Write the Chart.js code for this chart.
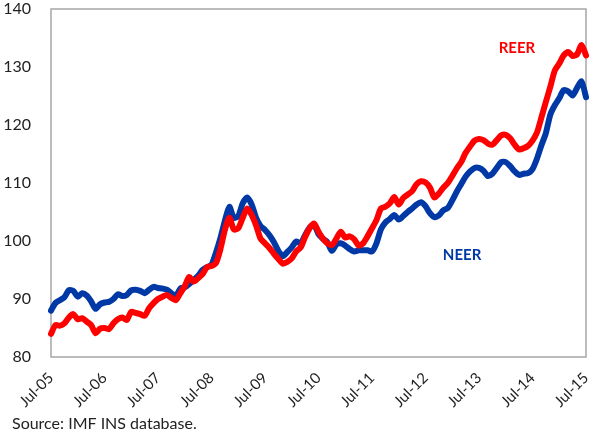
<!DOCTYPE html>
<html>
<head>
<meta charset="utf-8">
<script src="https://cdn.jsdelivr.net/npm/chart.js@4/dist/chart.umd.min.js"></script>
<style>
  html, body { margin: 0; padding: 0; background: #fff; }
  #wrap { position: relative; width: 590px; height: 434px; }
</style>
</head>
<body>
<div id="wrap"><canvas id="c" width="590" height="434"></canvas></div>
<script>
// ---- data ----
const monthNames = ["Jan","Feb","Mar","Apr","May","Jun","Jul","Aug","Sep","Oct","Nov","Dec"];
const startYear = 2005, startMonth = 6; // Jul-05
const nMonths = 121;
const categories = [];
for (let i = 0; i < nMonths; i++) {
  const mi = (startMonth + i) % 12;
  const yr = startYear + Math.floor((startMonth + i) / 12);
  categories.push(monthNames[mi] + "-" + String(yr % 100).padStart(2, "0"));
}
const reer = [
  84.0, 85.5, 85.4, 85.8, 86.8, 87.4, 86.5, 86.7, 86.1, 85.5,
  84.1, 84.9, 85.0, 84.8, 85.8, 86.5, 86.8, 86.4, 87.8, 87.6,
  87.4, 87.1, 88.4, 89.3, 90.0, 90.4, 90.7, 90.2, 89.8, 91.0,
  92.2, 93.8, 93.0, 93.6, 94.3, 95.5, 95.7, 96.2, 98.6, 101.9,
  104.0, 102.0, 102.2, 104.0, 105.6, 104.5, 102.7, 100.4, 99.6, 98.8,
  97.8, 96.9, 96.1, 96.4, 97.0, 98.2, 98.9, 100.7, 102.2, 103.0,
  101.6, 100.4, 99.6, 99.3, 100.4, 101.6, 100.6, 100.8, 100.3, 99.2,
  99.6, 100.8, 102.2, 103.6, 105.6, 105.9, 106.5, 107.6, 106.3, 107.4,
  108.0, 108.6, 109.8, 110.3, 110.1, 109.2, 107.5, 108.2, 109.2, 110.0,
  111.2, 112.5, 113.6, 115.2, 116.3, 117.3, 117.6, 117.4, 116.8, 116.6,
  117.4, 118.2, 118.3, 117.7, 116.6, 115.8, 116.0, 116.4, 117.3, 118.7,
  121.3, 124.0, 126.6, 129.4, 130.6, 132.0, 132.6, 131.9, 132.2, 133.8,
  132.0
];
const neer = [
  88.0, 89.3, 89.8, 90.3, 91.5, 91.4, 90.4, 91.0, 90.6, 89.6,
  88.3, 89.1, 89.4, 89.5, 90.0, 90.8, 90.5, 90.7, 91.5, 91.6,
  91.4, 91.0, 91.6, 92.1, 91.9, 91.8, 91.6, 91.0, 90.5, 91.8,
  92.0, 92.6, 93.3, 94.0, 95.0, 95.5, 95.9, 98.0, 100.5, 103.5,
  105.9, 104.0, 104.3, 106.5, 107.5, 106.3, 104.0, 102.6, 101.9, 101.0,
  99.8, 98.3, 97.4, 98.1, 98.9, 99.9, 99.6, 101.0, 102.3, 102.8,
  101.2, 100.4, 99.8, 98.3, 99.4, 99.6, 99.2, 98.6, 98.2, 98.4,
  98.4, 98.4, 98.2, 99.6, 102.0, 103.2, 103.8, 104.5, 103.7, 104.3,
  105.0, 105.6, 106.3, 106.7, 106.0, 104.8, 104.1, 104.4, 105.3, 105.7,
  107.0, 108.5, 109.8, 111.1, 112.0, 112.6, 112.6, 112.1, 111.2, 111.6,
  112.6, 113.6, 113.6, 112.9, 112.0, 111.4, 111.6, 111.7, 112.4, 114.2,
  116.5, 118.6, 121.8, 123.4, 124.6, 126.0, 125.8, 125.1, 126.4, 127.5,
  124.8
];
const yTicks = [80, 90, 100, 110, 120, 130, 140];
const seriesNames = ["REER", "NEER"];
const sourceText = "Source: IMF INS database.";

const FONT = "Lato, 'Open Sans', sans-serif";
const RED = "#ff0000", BLUE = "#0039a6";

const framePlugin = {
  id: "frame",
  beforeDatasetsDraw(chart) {
    const {ctx, chartArea: a} = chart;
    ctx.save();
    ctx.strokeStyle = "#a6a6a6";
    ctx.lineWidth = 1.5;
    ctx.strokeRect(a.left, a.top, a.right - a.left, a.bottom - a.top);
    ctx.restore();
  },
  afterDraw(chart) {
    const {ctx, scales: {x, y}} = chart;
    ctx.save();
    ctx.font = "bold 15px " + FONT;
    ctx.textAlign = "center";
    ctx.textBaseline = "middle";
    ctx.fillStyle = RED;
    ctx.fillText(seriesNames[0], x.getPixelForValue(104.5), y.getPixelForValue(133.3));
    ctx.fillStyle = BLUE;
    ctx.fillText(seriesNames[1], x.getPixelForValue(92.2), y.getPixelForValue(97.6));
    ctx.font = "16px " + FONT;
    ctx.fillStyle = "#222";
    ctx.textAlign = "left";
    ctx.textBaseline = "alphabetic";
    ctx.fillText(sourceText, 12, 429);
    ctx.restore();
  }
};

new Chart(document.getElementById("c"), {
  type: "line",
  data: {
    labels: categories,
    datasets: [
      { label: seriesNames[0], data: reer, borderColor: RED, borderWidth: 6, pointRadius: 0, tension: 0.25, borderCapStyle: "round", borderJoinStyle: "round" },
      { label: seriesNames[1], data: neer, borderColor: BLUE, borderWidth: 6, pointRadius: 0, tension: 0.25, borderCapStyle: "round", borderJoinStyle: "round", order: 1 }
    ]
  },
  options: {
    responsive: false,
    animation: false,
    layout: { padding: { top: 9, right: 4, left: 0, bottom: 0 } },
    plugins: { legend: { display: false }, tooltip: { enabled: false } },
    scales: {
      x: {
        type: "category",
        offset: false,
        grid: { display: false },
        border: { display: false },
        ticks: {
          autoSkip: false,
          minRotation: 45, maxRotation: 45,
          padding: 4,
          color: "#222",
          font: { family: FONT, size: 15 },
          callback: function (v, i) { const l = categories[i]; return l.startsWith("Jul") ? l : null; }
        },
        afterFit(s) { s.height = 77; s.paddingLeft = 0; s.paddingRight = 0; }
      },
      y: {
        min: 80, max: 140,
        grid: { display: false },
        border: { display: false },
        afterBuildTicks(s) { s.ticks = yTicks.map(v => ({ value: v })); },
        ticks: { padding: 12, color: "#222", font: { family: FONT, size: 16 } },
        afterFit(s) { s.width = 51; s.paddingTop = 0; s.paddingBottom = 0; }
      }
    }
  },
  plugins: [framePlugin]
});
</script>
</body>
</html>
